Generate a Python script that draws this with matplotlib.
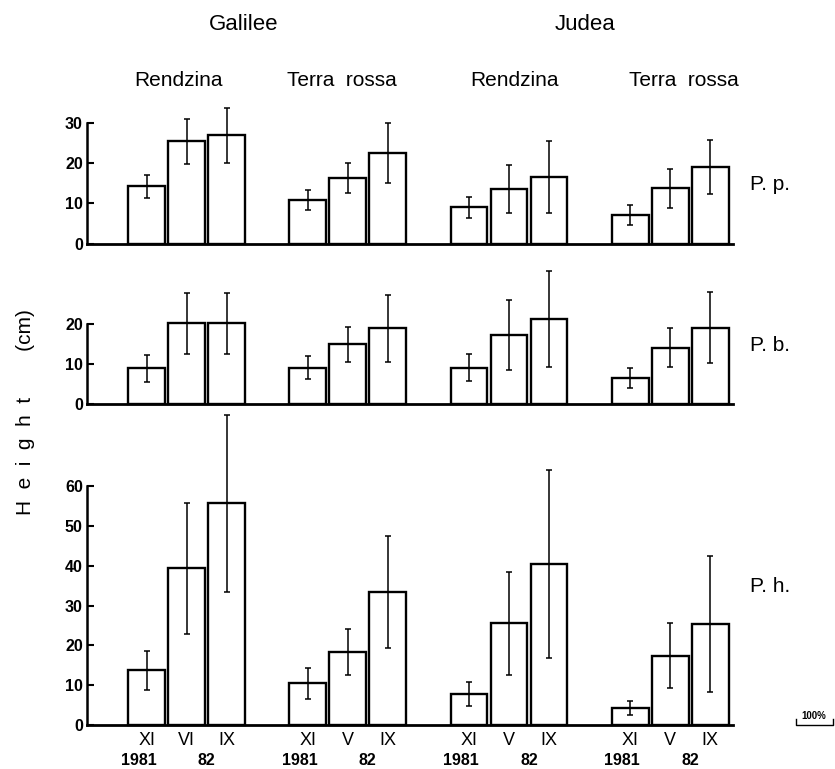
import matplotlib.pyplot as plt
from matplotlib.lines import Line2D
import numpy as np

plt.rcParams['font.family'] = ['Liberation Sans', 'DejaVu Sans']

regions = ['Galilee', 'Judea']
soils = ['Rendzina', 'Terra  rossa', 'Rendzina', 'Terra  rossa']
months = [['XI', 'VI', 'IX'], ['XI', 'V', 'IX'], ['XI', 'V', 'IX'], ['XI', 'V', 'IX']]
years = ['1981', '82']

# height (cm), 4 groups x 3 dates: Galilee R, Galilee TR, Judea R, Judea TR
pp_mean = [14.2, 25.4, 26.9, 10.8, 16.3, 22.5, 9.0, 13.5, 16.6, 7.1, 13.7, 19.0]
pp_err = [2.8, 5.7, 6.8, 2.5, 3.7, 7.5, 2.6, 6.0, 8.9, 2.6, 4.9, 6.8]
pb_mean = [8.9, 20.2, 20.2, 9.1, 14.9, 18.9, 9.1, 17.2, 21.2, 6.5, 14.1, 19.1]
pb_err = [3.3, 7.6, 7.6, 2.9, 4.4, 8.4, 3.4, 8.8, 12.0, 2.4, 4.9, 8.9]
ph_mean = [13.7, 39.3, 55.7, 10.5, 18.4, 33.4, 7.8, 25.5, 40.4, 4.3, 17.4, 25.4]
ph_err = [5.0, 16.5, 22.2, 3.9, 5.8, 14.0, 3.0, 13.0, 23.6, 1.8, 8.2, 17.0]

species = ['P. p.', 'P. b.', 'P. h.']
ylims = [30, 20, 60]
yticks = [[0, 10, 20, 30], [0, 10, 20], [0, 10, 20, 30, 40, 50, 60]]

W, H = 835, 769


def fx(px):
    return px / W


def fy(py):
    return 1 - py / H


fig = plt.figure(figsize=(8.35, 7.69), dpi=100)

# axes rects from pixel positions (zero line, top tick)
rects = [(243.5, 123), (404, 324), (725, 486)]
left_px, right_px = 87, 733

group_gap = 4.03
xpos = np.array([g * group_gap + o for g in range(4) for o in (-1, 0, 1)])

data = [(pp_mean, pp_err), (pb_mean, pb_err), (ph_mean, ph_err)]
label_y = [185, 345, 587]
axes = []
for i, ((y0, y1), (m, e)) in enumerate(zip(rects, data)):
    ax = fig.add_axes([fx(left_px), fy(y0), fx(right_px) - fx(left_px), (y0 - y1) / H])
    bars = ax.bar(xpos, m, width=0.92, facecolor='white', edgecolor='black', linewidth=1.7, zorder=2)
    for b in bars:
        b.set_clip_on(False)
    eb = ax.errorbar(xpos, m, yerr=e, fmt='none', ecolor='black', elinewidth=1.1,
                     capsize=2, capthick=1.1, zorder=3)
    for art in eb.lines[1] + eb.lines[2]:
        art.set_clip_on(False)
    ax.set_xlim(-2.49, 13.66)
    ax.set_ylim(0, ylims[i])
    ax.set_yticks(yticks[i])
    ax.tick_params(axis='y', direction='in', length=5, width=1.5, labelsize=11.5, pad=3)
    for lab in ax.get_yticklabels():
        lab.set_fontweight('bold')
    for s in ('top', 'right'):
        ax.spines[s].set_visible(False)
    ax.spines['left'].set_linewidth(1.8)
    ax.spines['bottom'].set_linewidth(2.0)
    ax.patch.set_visible(False)
    fig.text(fx(750), fy(label_y[i]), species[i], fontsize=15, va='center', ha='left')
    axes.append(ax)

for ax in axes[:2]:
    ax.set_xticks([])

axb = axes[2]
axb.set_xticks(xpos)
axb.set_xticklabels([mm for grp in months for mm in grp], fontsize=13)
axb.tick_params(axis='x', length=0, pad=5)
trans = axb.get_xaxis_transform()
for g in range(4):
    axb.text(xpos[3 * g] - 0.2, -0.148, years[0], transform=trans, ha='center', va='center',
             fontsize=11.5, fontweight='bold')
    axb.text((xpos[3 * g + 1] + xpos[3 * g + 2]) / 2, -0.148, years[1], transform=trans,
             ha='center', va='center', fontsize=11.5, fontweight='bold')

# headers
fig.text(fx(244), fy(25), regions[0], fontsize=16, ha='center', va='center')
fig.text(fx(585), fy(25), regions[1], fontsize=16, ha='center', va='center')
for cx, s in zip([178, 342, 515, 684], soils):
    fig.text(fx(cx), fy(80), s, fontsize=15, ha='center', va='center')

fig.text(fx(26), fy(412), 'H  e  i  g  h  t        (cm)', rotation=90, fontsize=15,
         ha='center', va='center')

# small 100% scale mark
fig.text(fx(814), fy(716), '100%', fontsize=7, ha='center', va='center', fontweight='bold')
fig.add_artist(Line2D([fx(796), fx(796), fx(833), fx(833)],
                      [fy(719), fy(725), fy(725), fy(719)], color='black', linewidth=1))

fig.savefig('out.png', dpi=100)
